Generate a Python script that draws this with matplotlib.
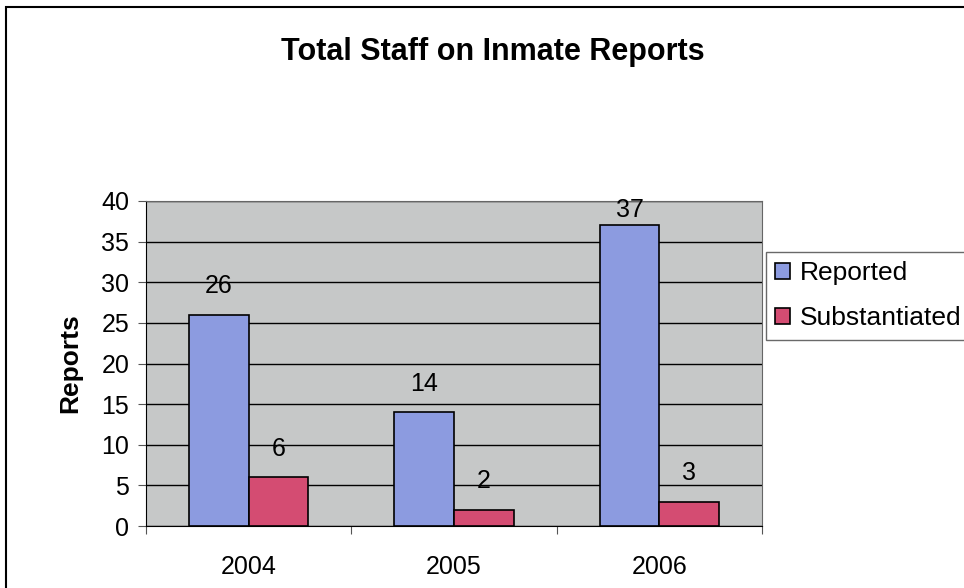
import numpy as np
import matplotlib.pyplot as plt
from matplotlib.patches import Rectangle

# Yearly report counts
years = ["2004", "2005", "2006"]
reported = [26, 14, 37]
substantiated = [6, 2, 3]

plt.rcParams['font.family'] = ['Liberation Sans', 'DejaVu Sans']

W, H = 964, 588
fig = plt.figure(figsize=(W / 100, H / 100), dpi=100)

# outer chart border (runs off the right and bottom edges)
fig.patches.append(Rectangle((6 / W, -0.05), 1.1, 1 - 7 / H + 0.05,
                             transform=fig.transFigure, fill=False,
                             edgecolor='black', linewidth=1.5))

ax = fig.add_axes([146 / W, 1 - 526 / H, (762 - 146) / W, (526 - 201) / H])
ax.set_facecolor('#c6c8c8')

x = np.arange(len(years))
w = 0.29
b1 = ax.bar(x - w / 2, reported, w, color='#8c9be0', edgecolor='black',
            linewidth=1.2, label='Reported', zorder=3)
b2 = ax.bar(x + w / 2, substantiated, w, color='#d44c72', edgecolor='black',
            linewidth=1.2, label='Substantiated', zorder=3)

# value labels sit above each bar, kept inside the plot area
for bars, vals in ((b1, reported), (b2, substantiated)):
    for bar, v in zip(bars, vals):
        ax.text(bar.get_x() + bar.get_width() / 2, min(v + 3.5, 38.9), str(v),
                ha='center', va='center', fontsize=18, zorder=4)

ax.set_xlim(-0.5, 2.5)
ax.set_ylim(0, 40)
ax.set_yticks(range(0, 41, 5))
ax.yaxis.grid(True, color='black', linewidth=1, zorder=1)
ax.set_axisbelow(True)

# categories labelled between the boundary ticks
ax.set_xticks([-0.5, 0.5, 1.5, 2.5])
ax.set_xticklabels([])
ax.set_xticks(x, minor=True)
ax.set_xticklabels(years, minor=True)
ax.tick_params(axis='x', which='minor', length=0, pad=21, labelsize=18)
ax.tick_params(axis='x', which='major', direction='out', length=6, color='#555555')
ax.tick_params(axis='y', direction='out', length=6, labelsize=18, pad=6, color='#555555')

for side in ('top', 'right'):
    ax.spines[side].set_color('#666666')
for side in ('left', 'bottom'):
    ax.spines[side].set_color('black')

ax.set_ylabel('Reports', fontsize=19, fontweight='bold', labelpad=14)

fig.text(493 / W, 1 - 52 / H, 'Total Staff on Inmate Reports',
         ha='center', va='center', fontsize=22, fontweight='bold')

leg = fig.legend(handles=[b1, b2], loc='upper left',
                 bbox_to_anchor=(766 / W, 1 - 252 / H), fontsize=19,
                 frameon=True, fancybox=False, edgecolor='#444444',
                 handlelength=0.55, handleheight=0.55, handletextpad=0.4,
                 borderpad=0.35, labelspacing=0.8, borderaxespad=0)
leg.get_frame().set_linewidth(1)

fig.savefig('out.png', dpi=100)
